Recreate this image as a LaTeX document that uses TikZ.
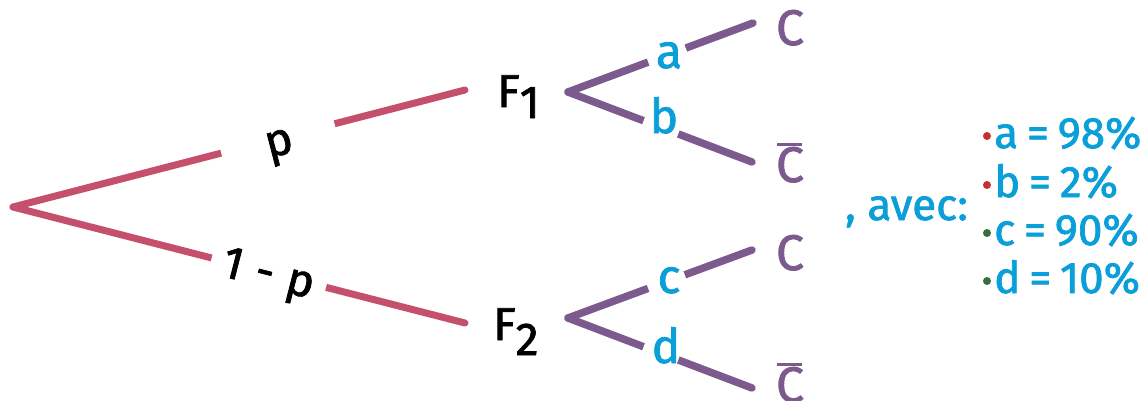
\documentclass[tikz,border=0pt]{standalone}
\usepackage{fontspec}
\setmainfont{Fira Sans}[FakeBold=1.6]
\definecolor{pinkl}{HTML}{C5506B}
\definecolor{purp}{HTML}{7D5A8E}
\definecolor{cblue}{HTML}{0A9FD8}
\definecolor{dotred}{HTML}{C8302B}
\definecolor{dotgreen}{HTML}{3B6E3F}
\newcommand{\barC}{\makebox[0pt][l]{\hspace{1pt}\rule[36pt]{25pt}{3.5pt}}C}
\begin{document}
\begin{tikzpicture}[x=1pt,y=-1pt,
  pinkline/.style={draw=pinkl,line width=7pt,line cap=round},
  purpline/.style={draw=purp,line width=7.5pt,line cap=round},
  gapbox/.style={fill=white,sloped,inner sep=0pt,minimum height=34pt},
  blk/.style={text=black,font=\fontsize{46}{46}\selectfont},
  blu/.style={text=cblue,font=\fontsize{48}{48}\selectfont,inner sep=0pt,anchor=base},
  cnode/.style={text=purp,font=\fontsize{50}{50}\selectfont,inner sep=0pt,anchor=base},
  listtxt/.style={text=cblue,font=\fontsize{44}{44}\selectfont,inner sep=0pt,anchor=base west},
  bullet/.style={circle,inner sep=0pt,minimum size=8pt},
]
\clip (0,0) rectangle (1146,400);
\fill[white] (0,0) rectangle (1146,400);
% coordinates
\coordinate (root) at (13,207);
\coordinate (e1) at (465,90);
\coordinate (e2) at (465,323);
\coordinate (k1) at (568,92);
\coordinate (k2) at (568,318);
\coordinate (c1e) at (753,23);
\coordinate (c2e) at (752,162);
\coordinate (c3e) at (752,250);
\coordinate (c4e) at (752,388);
% pink branches with labels
\draw[pinkline] (root) -- node[gapbox,blk,pos=0.586,minimum width=117pt,
  text height=38pt,text depth=4pt] (gp) {p} (e1);
\draw[pinkline] (root) -- node[gapbox,blk,pos=0.566,minimum width=118pt,
  text height=36pt,text depth=6pt] (gq) {1\hspace{0.3em}-\hspace{0.3em}p} (e2);
% F nodes
\node[blk,inner sep=0pt,anchor=base west] (F1) at (497,107) {F\raisebox{-11pt}{1}};
\node[blk,inner sep=0pt,anchor=base west] (F2) at (493,340) {F\raisebox{-15pt}{2}};
% purple branches
\draw[purpline] (k1) -- node[gapbox,pos=0.535,minimum width=40pt] (ga) {} (c1e);
\draw[purpline] (k1) -- node[gapbox,pos=0.505,minimum width=37pt] (gb) {} (c2e);
\draw[purpline] (k2) -- node[gapbox,pos=0.535,minimum width=39pt] (gc) {} (c3e);
\draw[purpline] (k2) -- node[gapbox,pos=0.505,minimum width=37pt] (gd) {} (c4e);
\node[blu] (la) at (669,68) {a};
\node[blu] (lb) at (664,133) {b};
\node[blu] (lc) at (669,293) {c};
\node[blu] (ld) at (666,363) {d};
% outcomes
\node[cnode] (C1) at (790,45) {C};
\node[cnode] (C2) at (790,182) {\barC};
\node[cnode] (C3) at (790,270) {C};
\node[cnode] (C4) at (790,402) {\barC};
% legend
\node[listtxt,font=\fontsize{44}{44}\selectfont] (avec) at (845,220) {, avec:};
\node[bullet,fill=dotred] (d1) at (987,136) {};
\node[bullet,fill=dotred] (d2) at (987,185) {};
\node[bullet,fill=dotgreen] (d3) at (987,233) {};
\node[bullet,fill=dotgreen] (d4) at (987,281) {};
\node[listtxt] (r1) at (994,148) {a\hspace{0.2em}=\hspace{0.2em}98\%};
\node[listtxt] (r2) at (994,197) {b\hspace{0.2em}=\hspace{0.2em}2\%};
\node[listtxt] (r3) at (994,245) {c\hspace{0.2em}=\hspace{0.2em}90\%};
\node[listtxt] (r4) at (994,293) {d\hspace{0.2em}=\hspace{0.2em}10\%};
\end{tikzpicture}
\end{document}
